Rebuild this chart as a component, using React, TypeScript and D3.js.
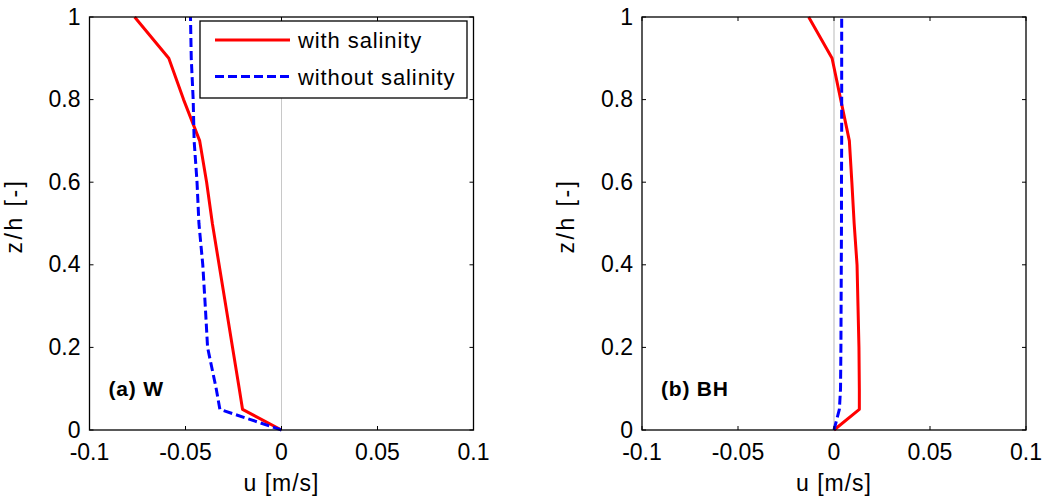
import React from "react";
import * as d3 from "d3";

// depth levels (z/h) shared by every profile
const zLevels = [0, 0.05, 0.1, 0.2, 0.3, 0.4, 0.5, 0.6, 0.7, 0.8, 0.9, 1];

// (a) W
const wWithSalinity = [0, -0.0203, -0.022, -0.0255, -0.029, -0.0325, -0.036, -0.039, -0.0426, -0.051, -0.0587, -0.0765];
const wWithoutSalinity = [0, -0.0321, -0.034, -0.0385, -0.0397, -0.041, -0.043, -0.044, -0.0455, -0.046, -0.047, -0.0474];

// (b) BH
const bhWithSalinity = [0, 0.0132, 0.0132, 0.013, 0.0125, 0.012, 0.0105, 0.0093, 0.008, 0.0035, -0.001, -0.0132];
const bhWithoutSalinity = [0, 0.0028, 0.0034, 0.0036, 0.0037, 0.0038, 0.0039, 0.0039, 0.004, 0.004, 0.004, 0.004];

const xTicks = [-0.1, -0.05, 0, 0.05, 0.1];
const yTicks = [0, 0.2, 0.4, 0.6, 0.8, 1];
const seriesNames = ["with salinity", "without salinity"];

const FONT = "'Liberation Sans', Arial, Helvetica, sans-serif";
const RED = "#ff0000";
const BLUE = "#0000ff";

type PanelProps = {
  left: number;
  title: string;
  red: number[];
  blue: number[];
  zeroWidth: number;
  zeroColor: string;
  legend?: boolean;
};

function Panel({ left, title, red, blue, zeroWidth, zeroColor, legend }: PanelProps) {
  const top = 17, bottom = 430, w = 384;
  const x = d3.scaleLinear().domain([-0.1, 0.1]).range([left, left + w]);
  const y = d3.scaleLinear().domain([0, 1]).range([bottom, top]);

  const line = d3.line<number>()
    .x(d => x(d))
    .y((d, i) => y(zLevels[i]));

  const fmt = (v: number) => (v === 0 ? "0" : String(v));
  const tick = 4;

  return (
    <g>
      {/* zero line */}
      <line x1={x(0)} x2={x(0)} y1={y(0)} y2={y(1)} stroke={zeroColor} strokeWidth={zeroWidth} />

      <path d={line(red) ?? ""} fill="none" stroke={RED} strokeWidth={3} strokeLinejoin="round" />
      <path d={line(blue) ?? ""} fill="none" stroke={BLUE} strokeWidth={3} strokeDasharray="9,4" />

      {/* box */}
      <rect x={x(-0.1)} y={y(1)} width={x(0.1) - x(-0.1)} height={y(0) - y(1)} fill="none" stroke="#000" strokeWidth={1.3} />

      {xTicks.map(t => (
        <g key={"x" + t}>
          <line x1={x(t)} x2={x(t)} y1={bottom} y2={bottom - tick} stroke="#000" strokeWidth={1} />
          <line x1={x(t)} x2={x(t)} y1={top} y2={top + tick} stroke="#000" strokeWidth={1} />
          <text x={x(t)} y={460} textAnchor="middle" fontSize={23} fontFamily={FONT} fill="#000">{fmt(t)}</text>
        </g>
      ))}
      {yTicks.map(t => (
        <g key={"y" + t}>
          <line x1={left} x2={left + tick} y1={y(t)} y2={y(t)} stroke="#000" strokeWidth={1} />
          <line x1={left + w} x2={left + w - tick} y1={y(t)} y2={y(t)} stroke="#000" strokeWidth={1} />
          <text x={left - 9} y={y(t) + 7.5} textAnchor="end" fontSize={23} fontFamily={FONT} fill="#000">{fmt(t)}</text>
        </g>
      ))}

      <text x={x(0)} y={491} textAnchor="middle" fontSize={23} letterSpacing={1} fontFamily={FONT} fill="#000">u [m/s]</text>
      <text transform={`translate(${left - 68},216) rotate(-90)`} textAnchor="middle" fontSize={23} letterSpacing={2.5} fontFamily={FONT} fill="#000">z/h [-]</text>

      <text x={left + 19} y={396} fontSize={21} fontWeight="bold" letterSpacing={0.8} fontFamily={FONT} fill="#000">{title}</text>

      {legend && (
        <g>
          <rect x={200} y={21} width={267} height={77} fill="#fff" stroke="#000" strokeWidth={1.3} />
          <line x1={215} x2={290} y1={40} y2={40} stroke={RED} strokeWidth={3} />
          <line x1={215} x2={290} y1={76.5} y2={76.5} stroke={BLUE} strokeWidth={3} strokeDasharray="9,4" />
          <text x={298} y={48} fontSize={22} letterSpacing={0.9} fontFamily={FONT} fill="#000">{seriesNames[0]}</text>
          <text x={298} y={84.5} fontSize={22} letterSpacing={0.9} fontFamily={FONT} fill="#000">{seriesNames[1]}</text>
        </g>
      )}
    </g>
  );
}

export default function App() {
  return (
    <svg width={1043} height={497} style={{ position: "absolute", left: 0, top: 0, background: "#fff" }}>
      <rect width={1043} height={497} fill="#fff" />
      <Panel left={89.5} title="(a) W" red={wWithSalinity} blue={wWithoutSalinity} zeroWidth={1} zeroColor="#c8c8c8" legend />
      <Panel left={642} title="(b) BH" red={bhWithSalinity} blue={bhWithoutSalinity} zeroWidth={2} zeroColor="#dcdcdc" />
    </svg>
  );
}
